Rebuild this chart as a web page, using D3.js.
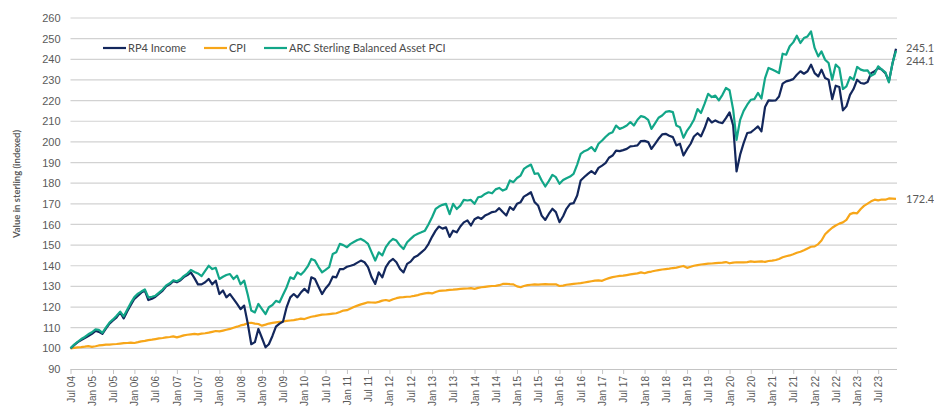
<!DOCTYPE html>
<html lang="en">
<head>
<meta charset="UTF-8">
<title>RP4 Income vs CPI vs ARC</title>
<script src="https://d3js.org/d3.v7.min.js"></script>
<style>
    body { margin: 0; background: #fff; }
    svg { font-family: Lato, "Open Sans", sans-serif; }
    .grid line { stroke: #d2d2d2; stroke-width: 1.2px; }
    .axis text { fill: #5a5a5a; font-size: 11px; }
    .axis path, .axis line { stroke: #c4c4c4; }
    .line { fill: none; stroke-width: 2.2px; stroke-linejoin: round; }
</style>
</head>
<body>
<svg id="chart"></svg>
<script>
// monthly series, Jul 2004 .. Dec 2023
var startMonth = "2004-07";
var rp4 = [
 100,101.5,103,104,105,106, 107,108.5,108,107,109.5,112,
 113.5,115,117.4,114.5,118,121, 124,125.5,127,128,123.4,124,
 125,126.5,128,130,131,132.5, 132,133,134.5,135.5,136.8,134,
 131,131,132,133.6,131,132.8, 126.3,128,124.7,126.3,124,121.5,
 119,120.7,112,102,103,109.4, 105,100.5,102,106,110.5,112,
 113,120,124.7,126.3,124.7,127, 128.8,127,134.4,133.6,130,126.3,
 129,131,134.7,134.4,138.4,138.4, 139.5,140,140.5,141.5,142.5,141.7,
 139.3,134.4,131.2,136.8,134.4,139.3, 142,143.3,141.7,138.4,136.8,140.9,
 142,144.1,145,146.5,148,150.5, 154,157,159,158,158.6,154,
 157,156.2,159,161,162,159.5, 162.5,163.5,162.7,164.3,165.1,166,
 166.3,167.9,166,164.3,168.4,167.1, 170,170.8,173.5,174.5,175.6,170.8,
 169.2,164.3,162.2,165.1,167.6,166, 161.1,164,167.6,170,170.3,174,
 181.3,183,184.5,185.8,184.5,187.4, 188.5,189.8,192.3,193.4,195.8,195.5,
 196,196.6,197.8,198,198.3,200.4, 200.5,199.9,196.6,199,201.5,203.6,
 203.9,203,202.3,198.3,199.1,193.4, 196.5,199.1,202.6,204.2,202.7,206.7,
 211.5,209.4,210.4,209.5,209.1,211.5, 214.3,208,185.7,193.8,199.4,204.3,
 204.6,206,207.5,205.1,216.9,220.1, 220,220.1,222,228.2,229.3,229.8,
 230.4,232.5,234.2,233,234.2,237.4, 233.3,231.7,235,230.9,230.1,220.7,
 227.2,226.6,215.3,217.2,222.8,225.6, 230.1,228.5,228.2,229,233.3,234.2,
 235.8,235,233.3,229.3,238,245.1
];
var cpi = [
 100,100.2,100.5,100.6,100.8,101.1, 100.7,101,101.4,101.6,101.8,101.8,
 102,102.1,102.3,102.5,102.6,102.8, 102.6,103,103.4,103.6,104,104.2,
 104.5,104.8,105,105.3,105.5,105.8, 105.3,105.8,106.3,106.6,106.8,107,
 106.8,107.1,107.3,107.6,108,108.4, 108.2,108.6,109,109.4,110,110.5,
 111.1,111.5,112.2,112.4,112,111.8, 111,111.5,112,112.3,112.6,112.8,
 113,113.3,113.5,113.7,114,114.4, 114.2,114.8,115.3,115.6,116,116.3,
 116.4,116.6,116.8,117,117.6,118.3, 118.5,119.3,120,120.7,121.3,121.8,
 122.3,122.2,122.1,122.5,123.1,123.4, 123,123.8,124.3,124.7,124.8,125,
 125.1,125.4,125.8,126.3,126.6,126.9, 126.6,127.3,127.8,128,128.1,128.3,
 128.4,128.6,128.8,128.9,129,129.2, 128.8,129.3,129.6,129.8,130,130.2,
 130.3,130.6,131.2,131.3,131.1,131, 130,129.6,130.2,130.6,130.8,131,
 130.9,131,131.1,131,131,131, 130.2,130.4,130.8,131,131.2,131.4,
 131.6,131.9,132.2,132.5,132.8,132.9, 132.7,133.5,134,134.5,134.8,135.1,
 135.2,135.5,135.8,136.1,136.3,136.8, 136.4,136.9,137.2,137.6,137.9,138.2,
 138.4,138.6,138.9,139.1,139.5,139.9, 139,139.5,140,140.3,140.6,140.8,
 141,141.1,141.3,141.4,141.5,141.8, 141.2,141.5,141.7,141.6,141.6,141.8,
 142.1,141.9,142,142.1,141.9,142.3, 142.5,142.8,143.3,144.1,144.6,145,
 145.6,146.3,146.8,147.5,148.4,149.2, 149.4,150.5,152.2,155.3,156.9,158.4,
 159.5,160.4,161,162.2,165,165.6, 165.4,167.5,169,170.1,171.2,172,
 171.7,172.1,172,172.6,172.5,172.4
];
var arc = [
 100,101.8,103.2,104.5,105.5,106.8, 107.8,109.2,109,107.5,110,112.5,
 114,115.8,117.8,115.5,118.8,122, 124.8,126.5,127.5,128.5,124.7,125,
 125.5,127,128.5,130.5,131.5,133, 132.5,133.5,135,136.2,138,137,
 136.3,135,137.5,140,138.4,139, 133.6,134.7,135.5,136,133.6,135.2,
 131,132.8,126,118.3,117.4,121.5, 119,116.6,119.9,121,123,122.3,
 126,129.6,134.4,133.6,136.8,135.7, 137.5,140,143.3,142.5,139.5,136.8,
 138,139.3,145.7,146.5,150.6,150, 149,150.6,151.5,152.5,153,152,
 150.6,146.5,142.5,146.5,145,149, 151.5,153,152.2,149.8,148.1,151.4,
 153,154.6,155.5,156.2,157,160, 163.5,167.5,168.7,169.5,170,165,
 170,167.5,169.1,171.9,171.6,171.9, 170,173.2,173.5,174.8,175.6,175.1,
 177,177.7,176.4,177.2,181.3,180.5, 182.5,183.7,186.9,188.1,189,184.5,
 184.8,181.3,178.4,181,184,182.9, 179.7,181.5,182.4,183.2,184.5,189,
 194.2,195.5,196.2,197.5,195.5,199.1, 200.7,202.5,203.9,204.7,207.9,206.3,
 207,207.9,209.6,207.9,210.7,212.5, 212,210.7,206.3,209,211.7,212.8,
 214.5,214.9,214.4,207.9,207.1,202, 205.5,207.9,210.7,215.9,214,218.5,
 223.3,221.7,222.4,220.1,222.8,226.1, 225,215.6,201,210.7,215,218,
 220.4,220.7,223.7,221,230.9,235.8, 235,234.2,233.3,242.7,242.2,246.3,
 248.2,251.4,247.9,250.3,251.1,253.5, 245.5,241.4,243.8,239.8,238.2,230.1,
 237.4,235.8,225.6,226.9,231.4,230.1, 236.3,235,234.5,234.6,232,233,
 236.6,235,233.7,228.8,238.2,244.1
];
var seriesNames = ["RP4 Income", "CPI", "ARC Sterling Balanced Asset PCI"];
var seriesColors = ["#13275c", "#f7a619", "#12a688"];
var endLabels = ["245.1", "172.4", "244.1"];
var yTicks = d3.range(90, 261, 10);

var W = 934, H = 407;
var margin = { top: 18, right: 37, bottom: 38, left: 70.5 };

var svg = d3.select("#chart").attr("width", W).attr("height", H);

var parse = d3.timeParse("%Y-%m");
var t0 = parse(startMonth);
var dates = rp4.map(function(d, i) { return d3.timeMonth.offset(t0, i); });

var x = d3.scaleTime()
    .domain([t0, dates[dates.length - 1]])
    .range([margin.left, 896]);
var y = d3.scaleLinear()
    .domain([90, 260])
    .range([H - margin.bottom, margin.top]);

// horizontal gridlines
svg.append("g").attr("class", "grid")
    .selectAll("line").data(yTicks.slice(1)).enter().append("line")
    .attr("x1", margin.left).attr("x2", 897)
    .attr("y1", function(d) { return y(d); })
    .attr("y2", function(d) { return y(d); });

// y axis (labels only)
var yAxis = svg.append("g").attr("class", "axis")
    .attr("transform", "translate(" + (margin.left - 6) + ",0)")
    .call(d3.axisLeft(y).tickValues(yTicks).tickSize(0).tickPadding(4));
yAxis.select(".domain").remove();

// x axis
var xTicks = [];
for (var i = 0; i < dates.length; i += 6) xTicks.push(dates[i]);
var fmt = d3.timeFormat("%b %y");
var xAxis = svg.append("g").attr("class", "axis")
    .attr("transform", "translate(0," + y(90) + ")")
    .call(d3.axisBottom(x).tickValues(xTicks).tickFormat(fmt).tickSize(5).tickSizeOuter(0));
xAxis.select(".domain").attr("d", "M" + margin.left + ",0.5H897");
xAxis.selectAll("text")
    .style("font-size", "10px")
    .attr("transform", "rotate(-90)")
    .attr("text-anchor", "end")
    .attr("x", -7).attr("y", 0).attr("dy", "0.35em");

// y axis title
svg.append("text")
    .attr("transform", "translate(17,184) rotate(-90)")
    .attr("text-anchor", "middle")
    .attr("dy", "0.35em")
    .style("font-size", "9.5px").style("font-weight", "bold").style("fill", "#5a5a5a")
    .text("Value in sterling (indexed)");

// lines
var line = d3.line()
    .x(function(d, i) { return x(dates[i]); })
    .y(function(d) { return y(d); });
var data = [rp4, cpi, arc];
[1, 0, 2].forEach(function(k) {
    svg.append("path").attr("class", "line")
        .attr("stroke", seriesColors[k])
        .attr("d", line(data[k]));
});

// end labels
var labelY = [y(245.1) - 1, y(172.4), y(244.1) + 10];
data.forEach(function(s, k) {
    svg.append("text")
        .attr("x", 906).attr("y", labelY[k]).attr("dy", "0.35em")
        .style("font-size", "11px").style("fill", "#5a5a5a")
        .text(endLabels[k]);
});

// legend
var legendX = [103, 204, 264];
var lg = svg.append("g").attr("transform", "translate(0,48)");
seriesNames.forEach(function(n, k) {
    lg.append("line")
        .attr("x1", legendX[k]).attr("x2", legendX[k] + 23)
        .attr("stroke", seriesColors[k]).attr("stroke-width", 2.2);
    lg.append("text")
        .attr("x", legendX[k] + 25).attr("dy", "0.35em")
        .style("font-size", "11px").style("fill", "#4a4a4a")
        .text(n);
});
</script>
</body>
</html>
